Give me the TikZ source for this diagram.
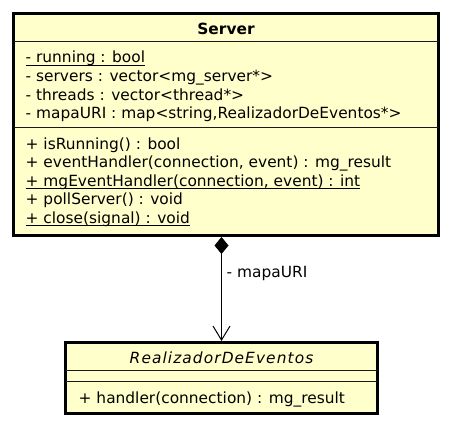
\documentclass[tikz,border=0pt]{standalone}
\usepackage{fontspec}
\setmainfont{DejaVu Sans}
\newfontfamily\realfont[LetterSpace=7]{DejaVu Sans}
\usetikzlibrary{arrows.meta}
\definecolor{umlfill}{HTML}{FFFFCC}
\begin{document}
\begin{tikzpicture}[x=1pt,y=-1pt,
  umlbox/.style={draw=black, line width=3pt, fill=umlfill, inner sep=0pt},
  txt/.style={inner sep=0pt, anchor=base west, font=\fontsize{15.4pt}{18.5pt}\selectfont},
  sep/.style={draw=black!90, line width=1pt},
  uline/.style={line width=1pt},
  conn/.style={line width=1pt}]
\useasboundingbox (0,0) rectangle (452,428);
% Server class
\node[umlbox, minimum width=425pt, minimum height=222pt] (server) at (226,124.5) {};
\node[txt, anchor=base, font=\fontsize{15.4pt}{18.5pt}\selectfont\bfseries] (stitle) at (226,35) {Server};
\draw[sep] ([xshift=1.5pt,yshift=-30pt]server.north west) -- ([xshift=-1.5pt,yshift=-30pt]server.north east);
\draw[sep] ([xshift=1.5pt,yshift=-115pt]server.north west) -- ([xshift=-1.5pt,yshift=-115pt]server.north east);
\node[txt] (a1) at (25.5,63) {- running : bool};
\node[txt] (a2) at (25.5,81.5) {- servers : vector<mg\_server*>};
\node[txt] (a3) at (25.5,100) {- threads : vector<thread*>};
\node[txt] (a4) at (25.5,118.5) {- mapaURI : map<string,RealizadorDeEventos*>};
\node[txt] (o1) at (25.5,149) {+ isRunning() : bool};
\node[txt] (o2) at (25.5,167.5) {+ eventHandler(connection, event) : mg\_result};
\node[txt] (o3) at (25.5,186) {+ mgEventHandler(connection, event) : int};
\node[txt] (o4) at (25.5,204.5) {+ pollServer() : void};
\node[txt] (o5) at (25.5,223) {+ close(signal) : void};
\draw[uline] ([yshift=-2.7pt]a1.base west) -- ([yshift=-2.7pt]a1.base east);
\draw[uline] ([yshift=-2.7pt]o3.base west) -- ([yshift=-2.7pt]o3.base east);
\draw[uline] ([yshift=-2.7pt]o5.base west) -- ([yshift=-2.7pt]o5.base east);
% RealizadorDeEventos class
\node[umlbox, minimum width=312pt, minimum height=71pt] (real) at (221.5,378) {};
\node[txt, anchor=base, font=\fontsize{15.4pt}{18.5pt}\realfont\itshape] (rtitle) at (221.5,363) {RealizadorDeEventos};
\draw[sep] ([xshift=1.5pt,yshift=-29.7pt]real.north west) -- ([xshift=-1.5pt,yshift=-29.7pt]real.north east);
\draw[sep] ([xshift=1.5pt,yshift=-40.5pt]real.north west) -- ([xshift=-1.5pt,yshift=-40.5pt]real.north east);
\node[txt] (r1) at (78.5,403) {+ handler(connection) : mg\_result};
% composition
\draw[conn, {Diamond[length=17pt,width=14pt]}-{Straight Barb[length=14pt,width=17pt]}] (server.south -| real.north) -- (real.north);
\node[txt] (lbl) at (226.5,277) {- mapaURI};
\end{tikzpicture}
\end{document}
